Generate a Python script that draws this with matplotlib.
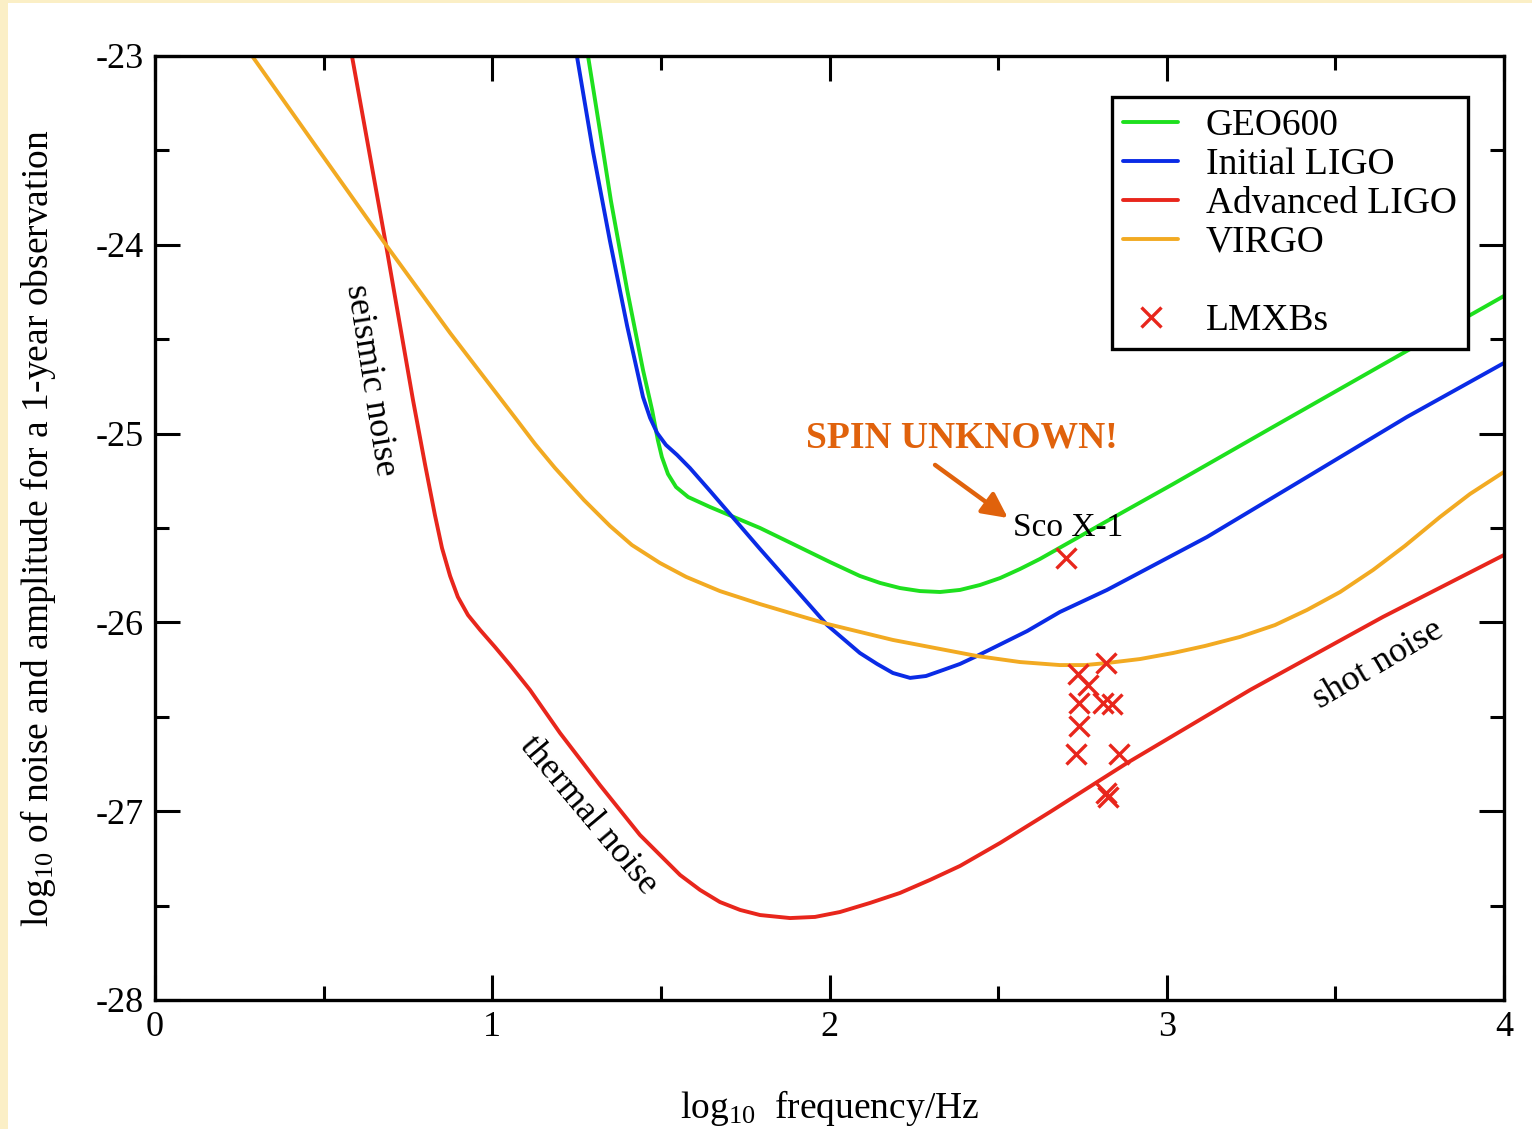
import matplotlib
matplotlib.use("Agg")
import matplotlib.pyplot as plt
from matplotlib.lines import Line2D
from matplotlib.patches import Rectangle

plt.rcParams["font.family"] = ["Liberation Serif", "DejaVu Serif"]
plt.rcParams["mathtext.fontset"] = "custom"
plt.rcParams["mathtext.rm"] = "Liberation Serif"
plt.rcParams["mathtext.it"] = "Liberation Serif:italic"

# sensitivity curves (log10 f, log10 h)
geo_x = [1.284, 1.319, 1.352, 1.400, 1.447, 1.474, 1.491, 1.503, 1.521, 1.545,
         1.581, 1.646, 1.794, 1.892, 2.001, 2.090, 2.150, 2.209, 2.268, 2.328,
         2.387, 2.446, 2.506, 2.565, 2.624, 2.713, 2.823, 3.019, 3.315, 3.712,
         4.000]
geo_y = [-23.000, -23.392, -23.768, -24.239, -24.663, -24.875, -25.034, -25.124,
         -25.214, -25.283, -25.336, -25.389, -25.500, -25.585, -25.680, -25.754,
         -25.791, -25.818, -25.834, -25.839, -25.828, -25.802, -25.765, -25.717,
         -25.664, -25.574, -25.463, -25.267, -24.965, -24.562, -24.271]

ligo_x = [1.251, 1.299, 1.349, 1.400, 1.447, 1.468, 1.489, 1.515, 1.548, 1.586,
          1.646, 1.794, 1.993, 2.090, 2.141, 2.188, 2.239, 2.286, 2.337, 2.387,
          2.437, 2.586, 2.683, 2.823, 3.119, 3.416, 3.712, 4.000]
ligo_y = [-23.000, -23.508, -23.980, -24.430, -24.806, -24.917, -24.997, -25.060,
          -25.113, -25.182, -25.304, -25.611, -26.014, -26.162, -26.220, -26.268,
          -26.294, -26.284, -26.252, -26.220, -26.178, -26.046, -25.945, -25.828,
          -25.548, -25.230, -24.912, -24.626]

adv_x = [0.584, 0.685, 0.765, 0.801, 0.830, 0.851, 0.875, 0.898, 0.928, 0.964,
         1.008, 1.053, 1.112, 1.201, 1.319, 1.438, 1.557, 1.616, 1.675, 1.735,
         1.794, 1.883, 1.957, 2.031, 2.120, 2.209, 2.298, 2.387, 2.506, 2.654,
         2.882, 3.247, 3.641, 4.000]
adv_y = [-23.000, -24.001, -24.822, -25.166, -25.431, -25.606, -25.754, -25.865,
         -25.961, -26.040, -26.130, -26.226, -26.358, -26.586, -26.861, -27.126,
         -27.338, -27.417, -27.481, -27.523, -27.550, -27.566, -27.560, -27.534,
         -27.486, -27.433, -27.364, -27.290, -27.168, -27.004, -26.745, -26.358,
         -25.971, -25.643]

virgo_x = [0.288, 0.489, 0.685, 0.875, 1.073, 1.127, 1.186, 1.272, 1.349, 1.414,
           1.497, 1.575, 1.675, 1.794, 1.913, 1.993, 2.188, 2.437, 2.565, 2.683,
           2.758, 2.823, 2.921, 3.019, 3.113, 3.217, 3.321, 3.416, 3.514, 3.612,
           3.706, 3.810, 3.899, 4.000]
virgo_y = [-23.000, -23.508, -24.001, -24.467, -24.928, -25.055, -25.182, -25.352,
           -25.489, -25.590, -25.685, -25.759, -25.834, -25.903, -25.966, -26.008,
           -26.093, -26.178, -26.210, -26.226, -26.226, -26.215, -26.194, -26.162,
           -26.125, -26.077, -26.014, -25.934, -25.839, -25.722, -25.595, -25.442,
           -25.320, -25.203]

# LMXB sources
lmxb_x = [2.701, 2.737, 2.820, 2.766, 2.740, 2.811, 2.838, 2.740, 2.731, 2.858,
          2.820, 2.826]
lmxb_y = [-25.659, -26.273, -26.215, -26.332, -26.427, -26.427, -26.432, -26.549,
          -26.697, -26.697, -26.904, -26.925]

xticks = [0, 1, 2, 3, 4]
yticks = [-28, -27, -26, -25, -24, -23]
ytick_labels = ["-28", "-27", "-26", "-25", "-24", "-23"]

GREEN = "#1EE01E"
BLUE = "#0A2BE6"
RED = "#E8261C"
YELLOW = "#F2AA22"
ORANGE = "#E0620C"

fig = plt.figure(figsize=(15.32, 11.29), dpi=100, facecolor="#FBEFC6")
fig.patches.append(Rectangle((8 / 1532, 0), 1, 1 - 3 / 1129, transform=fig.transFigure,
                             facecolor="white", edgecolor="none", zorder=-10))
ax = fig.add_axes([155 / 1532, 129 / 1129, 1349 / 1532, 944 / 1129])

lw = 2.8
kw = dict(lw=lw, solid_joinstyle="round", solid_capstyle="round")
ax.plot(geo_x, geo_y, color=GREEN, label="GEO600", **kw)
ax.plot(ligo_x, ligo_y, color=BLUE, label="Initial LIGO", **kw)
ax.plot(adv_x, adv_y, color=RED, label="Advanced LIGO", **kw)
ax.plot(virgo_x, virgo_y, color=YELLOW, label="VIRGO", **kw)
ax.plot(lmxb_x, lmxb_y, ls="none", marker="x", ms=15, mew=2.4, color=RED, label="LMXBs")

ax.set_xlim(0, 4)
ax.set_ylim(-28, -23)
ax.set_xticks(xticks)
ax.set_xticks([0.5, 1.5, 2.5, 3.5], minor=True)
ax.set_yticks(yticks)
ax.set_yticklabels(ytick_labels)
ax.set_yticks([-27.5, -26.5, -25.5, -24.5, -23.5], minor=True)
ax.tick_params(which="both", direction="in", top=True, right=True, width=2.2,
               labelsize=26)
ax.tick_params(which="major", length=18, pad=8)
ax.tick_params(which="minor", length=10)
for sp in ax.spines.values():
    sp.set_linewidth(2.4)

ax.set_xlabel(r"log$_{10}$  frequency/Hz", fontsize=27)
ax.set_ylabel(r"log$_{10}$ of noise and amplitude for a 1-year observation", fontsize=27)
ax.xaxis.set_label_coords(0.5, -0.093)
ax.yaxis.set_label_coords(-0.072, 0.5)

# curve annotations
ax.text(0.638, -24.716, "seismic noise", fontsize=26, rotation=-81,
        ha="center", va="center", rotation_mode="anchor")
ax.text(1.284, -27.020, "thermal noise", fontsize=26, rotation=-50,
        ha="center", va="center", rotation_mode="anchor")
ax.text(3.626, -26.226, "shot noise", fontsize=26, rotation=30.6,
        ha="center", va="center", rotation_mode="anchor")
ax.text(2.393, -25.023, "SPIN UNKNOWN!", fontsize=27, fontweight="bold",
        color=ORANGE, ha="center", va="center")
ax.text(2.707, -25.500, "Sco X-1", fontsize=24, ha="center", va="center")
ax.annotate("", xy=(2.529, -25.447), xytext=(2.313, -25.166),
            arrowprops=dict(arrowstyle="-|>", color=ORANGE, lw=3.2,
                            mutation_scale=38, shrinkA=0, shrinkB=0))

# legend with an empty row before the LMXB entry
handles, labels = ax.get_legend_handles_labels()
blank = Line2D([], [], ls="none")
handles = handles[:4] + [blank] + handles[4:]
labels = labels[:4] + [" "] + labels[4:]
leg = ax.legend(handles, labels, loc="upper right",
                bbox_to_anchor=((1468 - 155) / 1349, (1000 - 97) / 944),
                borderaxespad=0, fontsize=27, fancybox=False, framealpha=1,
                edgecolor="black", handlelength=1.45, handletextpad=0.75,
                labelspacing=0.12, borderpad=0.3, markerscale=1.0)
leg.get_frame().set_linewidth(2.4)

fig.savefig("out.png", dpi=100, facecolor=fig.get_facecolor())
